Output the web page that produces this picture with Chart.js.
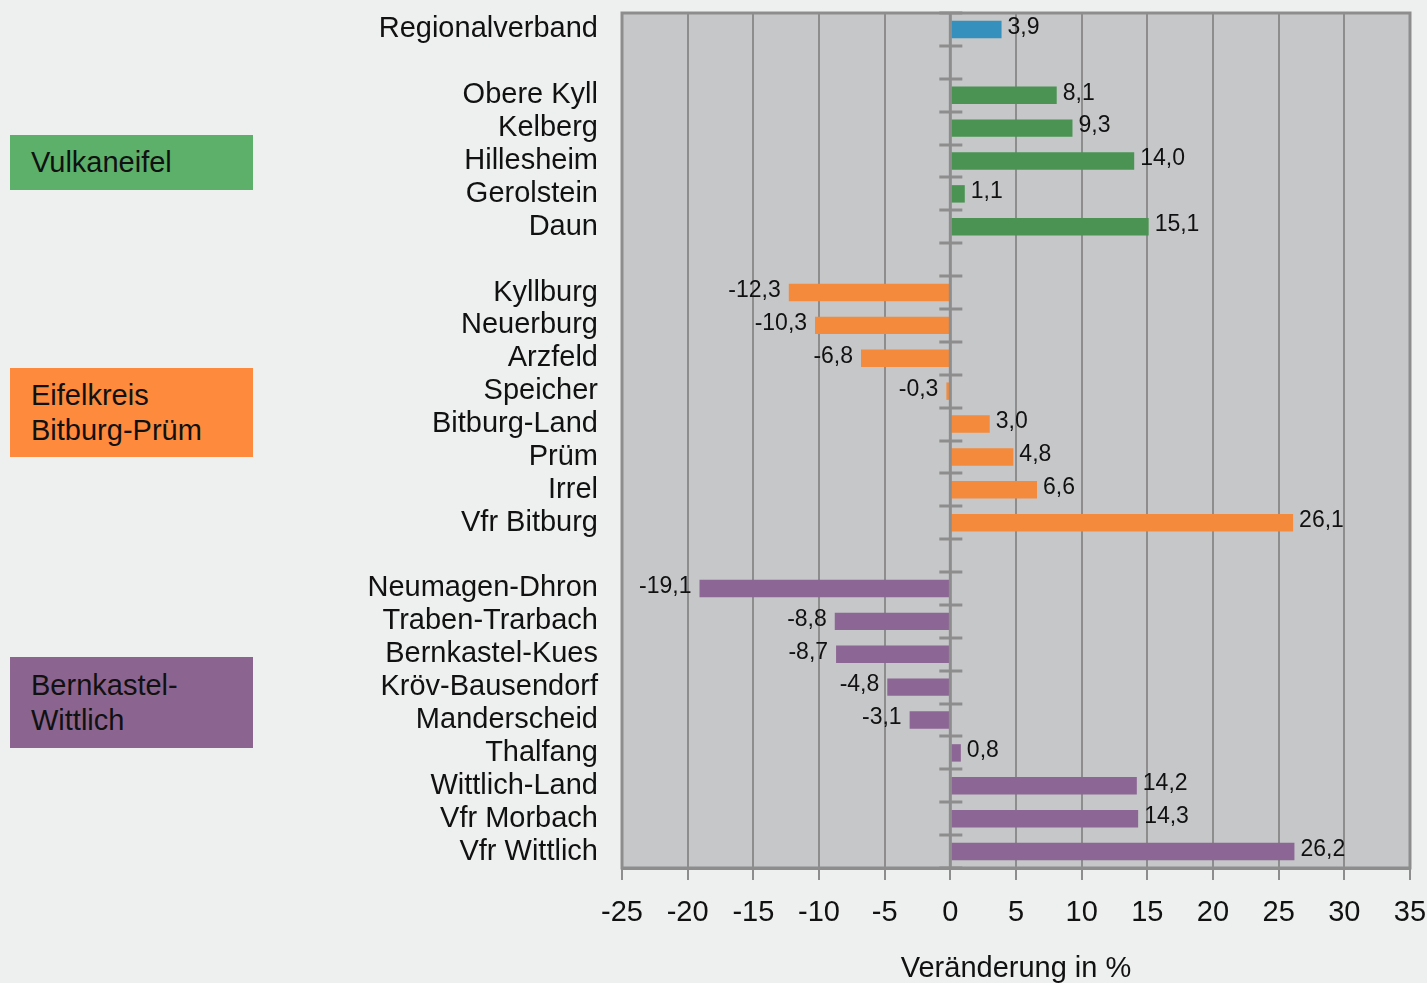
<!DOCTYPE html>
<html>
<head>
<meta charset="utf-8">
<script src="https://cdn.jsdelivr.net/npm/chart.js@4"></script>
<style>
  body { margin: 0; background: #eef0ef; }
  #wrap { position: relative; width: 1427px; height: 983px; overflow: hidden; }
  .box { position: absolute; left: 10px; width: 243px; box-sizing: border-box; padding-left: 21px;
         font-family: "Liberation Sans", Arial, sans-serif; font-size: 29px; line-height: 35px; color: #111;
         display: flex; flex-direction: column; justify-content: center; }
</style>
</head>
<body>
<div id="wrap">
  <canvas id="myChart" width="1427" height="983"></canvas>
  <div class="box" style="top:135px;height:55px;background:#5db06a;">Vulkaneifel</div>
  <div class="box" style="top:368px;height:89px;background:#fe8a3d;">Eifelkreis<br>Bitburg-Prüm</div>
  <div class="box" style="top:657px;height:91px;background:#8b6590;">Bernkastel-<br>Wittlich</div>
</div>
<script>
// rows from top to bottom, '' = gap row
var categories = ['Regionalverband', '', 'Obere Kyll', 'Kelberg', 'Hillesheim', 'Gerolstein', 'Daun', '',
  'Kyllburg', 'Neuerburg', 'Arzfeld', 'Speicher', 'Bitburg-Land', 'Prüm', 'Irrel', 'Vfr Bitburg', '',
  'Neumagen-Dhron', 'Traben-Trarbach', 'Bernkastel-Kues', 'Kröv-Bausendorf', 'Manderscheid', 'Thalfang',
  'Wittlich-Land', 'Vfr Morbach', 'Vfr Wittlich'];
var changes = [3.9, null, 8.1, 9.3, 14.0, 1.1, 15.1, null,
  -12.3, -10.3, -6.8, -0.3, 3.0, 4.8, 6.6, 26.1, null,
  -19.1, -8.8, -8.7, -4.8, -3.1, 0.8, 14.2, 14.3, 26.2];
var groups = ['R', '', 'V', 'V', 'V', 'V', 'V', '',
  'B', 'B', 'B', 'B', 'B', 'B', 'B', 'B', '',
  'W', 'W', 'W', 'W', 'W', 'W', 'W', 'W', 'W'];
var xTicks = [-25, -20, -15, -10, -5, 0, 5, 10, 15, 20, 25, 30, 35];

var groupColors = { R: '#3590bd', V: '#4a9352', B: '#f38a3c', W: '#8c6694', '': 'rgba(0,0,0,0)' };
var FONT = '"Liberation Sans", Arial, sans-serif';
var GRID = '#8d8d8d';

var plotArea = {
  id: 'plotArea',
  beforeDraw: function(chart) {
    var a = chart.chartArea, c = chart.ctx;
    c.save();
    c.fillStyle = '#c6c7c9';
    c.fillRect(a.left, a.top, a.right - a.left, a.bottom - a.top);
    c.restore();
  },
  afterDatasetsDraw: function(chart) {
    var a = chart.chartArea, c = chart.ctx;
    var x0 = chart.scales.x.getPixelForValue(0);
    var ys = chart.scales.y;
    var step = ys.getPixelForValue(1) - ys.getPixelForValue(0);
    c.save();
    c.strokeStyle = GRID;
    c.lineWidth = 3;
    c.beginPath();
    c.moveTo(x0, a.top);
    c.lineTo(x0, a.bottom);
    for (var i = 0; i <= categories.length; i++) {
      var y = Math.round(ys.getPixelForValue(i) - step / 2);
      c.moveTo(x0 - 11, y);
      c.lineTo(x0 + 12, y);
    }
    c.stroke();
    c.strokeRect(a.left, a.top, a.right - a.left, a.bottom - a.top);

    // value labels
    var meta = chart.getDatasetMeta(0);
    c.font = '23px ' + FONT;
    c.fillStyle = '#111';
    c.textBaseline = 'middle';
    meta.data.forEach(function(bar, i) {
      var v = changes[i];
      if (v === null) return;
      var txt = v.toFixed(1).replace('.', ',');
      if (v >= 0) {
        c.textAlign = 'left';
        c.fillText(txt, bar.x + 6, bar.y - 2);
      } else {
        c.textAlign = 'right';
        c.fillText(txt, bar.x - 8, bar.y - 2);
      }
    });
    c.restore();
  }
};

var ctx = document.getElementById('myChart').getContext('2d');
var chart = new Chart(ctx, {
  type: 'bar',
  data: {
    labels: categories,
    datasets: [{
      data: changes,
      backgroundColor: groups.map(function(g) { return groupColors[g]; }),
      barPercentage: 0.53,
      categoryPercentage: 1
    }]
  },
  options: {
    indexAxis: 'y',
    responsive: false,
    animation: false,
    layout: { padding: { top: 13, right: 17, left: 0, bottom: 0 } },
    plugins: { legend: { display: false }, tooltip: { enabled: false } },
    scales: {
      x: {
        min: -25,
        max: 35,
        afterBuildTicks: function(scale) {
          scale.ticks = xTicks.map(function(v) { return { value: v }; });
        },
        afterFit: function(scale) {
          scale.height = 115;
          scale.paddingLeft = 0;
          scale.paddingRight = 0;
        },
        grid: {
          color: GRID,
          lineWidth: 2,
          tickLength: 12
        },
        border: { display: true, color: GRID, width: 3 },
        ticks: {
          color: '#111',
          font: { family: FONT, size: 29 },
          padding: 16,
          maxRotation: 0,
          callback: function(v) { return String(v); }
        },
        title: {
          display: true,
          text: 'Veränderung in %',
          color: '#111',
          font: { family: FONT, size: 29 },
          padding: { top: 0, bottom: -3 }
        }
      },
      y: {
        afterFit: function(scale) {
          scale.width = 622;
          scale.paddingTop = 0;
          scale.paddingBottom = 0;
        },
        grid: { display: false, drawTicks: false },
        border: { display: false },
        ticks: {
          autoSkip: false,
          color: '#111',
          font: { family: FONT, size: 29, lineHeight: 1 },
          padding: 24
        }
      }
    }
  },
  plugins: [plotArea]
});
</script>
</body>
</html>
